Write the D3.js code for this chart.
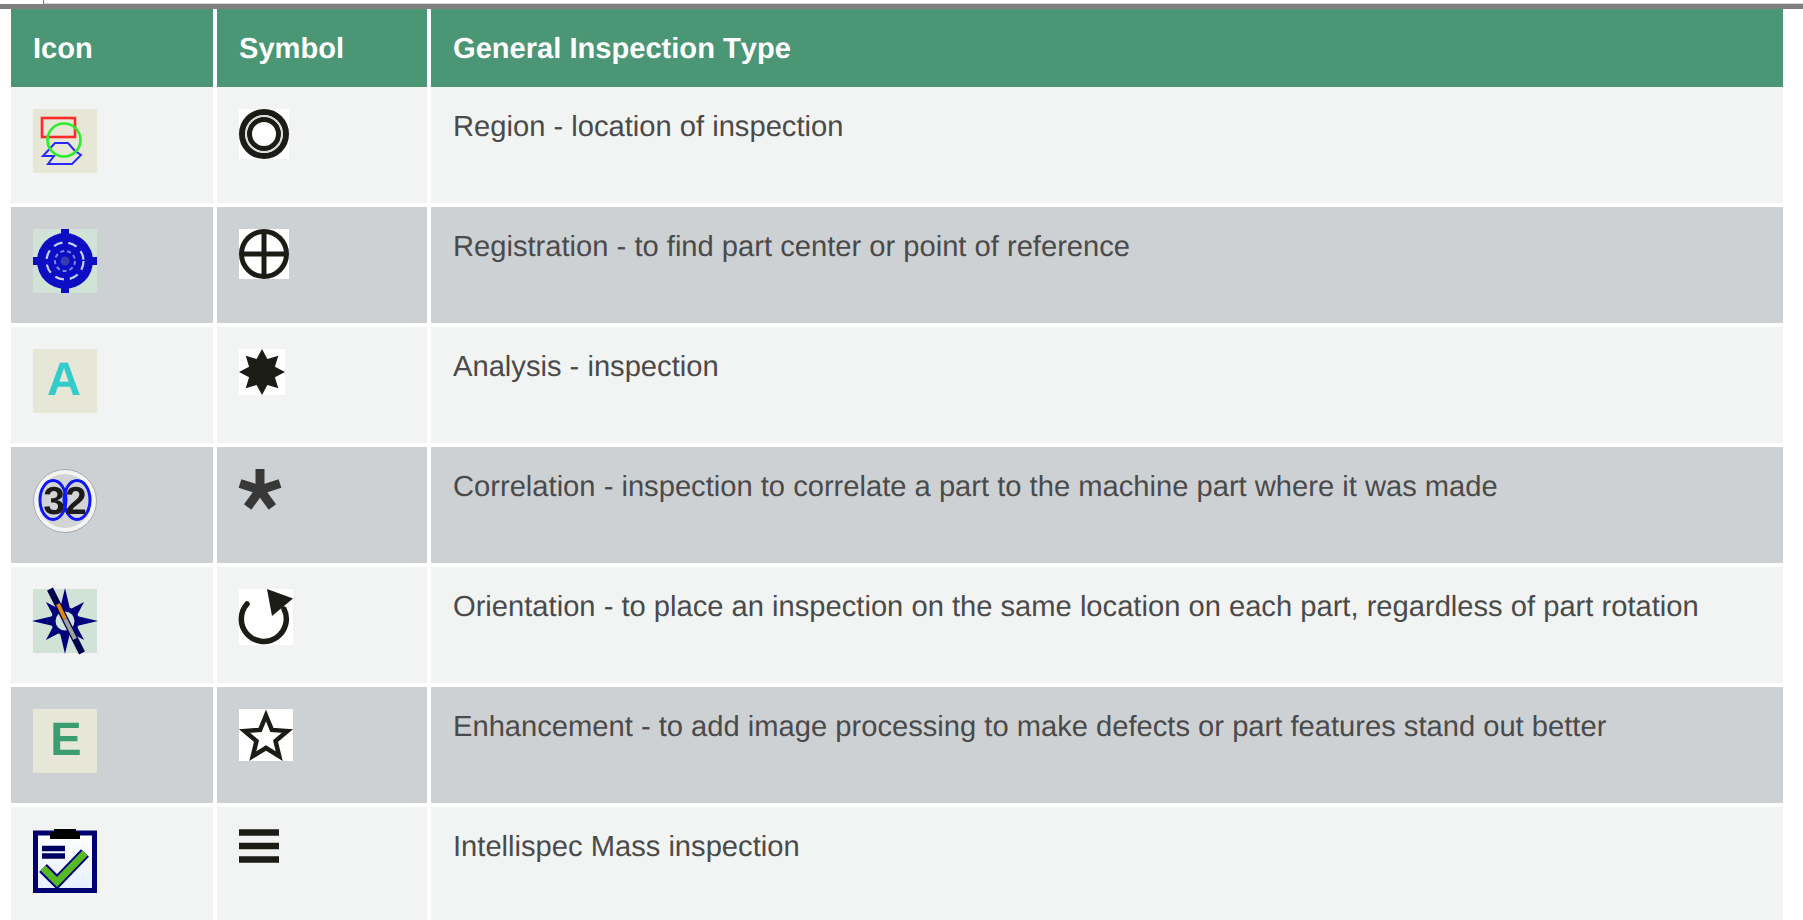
<!DOCTYPE html>
<html>
<head>
<meta charset="utf-8">
<script src="https://cdn.jsdelivr.net/npm/d3@7"></script>
<style>
  html, body { margin: 0; padding: 0; background: #fff; overflow: hidden; }
  text { font-family: "Liberation Sans", Arial, sans-serif; text-rendering: geometricPrecision; font-kerning: none; }
</style>
</head>
<body>
<div id="chart"></div>
<script>
// Table content
const columns = ["Icon", "Symbol", "General Inspection Type"];
const iconNames = ["region", "registration", "analysis", "correlation", "orientation", "enhancement", "mass"];
const symbolNames = ["target", "crosshair", "burst", "asterisk", "rotate", "star", "bars"];
const descriptions = [
    "Region - location of inspection",
    "Registration - to find part center or point of reference",
    "Analysis - inspection",
    "Correlation - inspection to correlate a part to the machine part where it was made",
    "Orientation - to place an inspection on the same location on each part, regardless of part rotation",
    "Enhancement - to add image processing to make defects or part features stand out better",
    "Intellispec Mass inspection"
];

const width = 1803, height = 920;
const columnEdges = [11, 217, 431, 1787];
const gap = 4;
const headerTop = 9, headerHeight = 78;
const ink = "#1f1a17";

// Helpers for the little pictures
function starPoints(cx, cy, outer, inner, n, start) {
    return d3.range(n * 2).map(i => {
        const a = start + i * Math.PI / n;
        const r = i % 2 ? inner : outer;
        return [cx + r * Math.cos(a), cy + r * Math.sin(a)];
    }).join(" ");
}
function square(g, size, fill) {
    g.append("rect").attr("width", size).attr("height", size).attr("fill", fill);
}

const iconDrawers = {
    region(g) {
        square(g, 64, "#e6e7d6");
        g.append("rect").attr("x", 9).attr("y", 9).attr("width", 33).attr("height", 19)
            .attr("fill", "none").attr("stroke", "#ff2a2a").attr("stroke-width", 2.6);
        g.append("polygon").attr("points", "10,47 22,34 35,34 42,42 48,46 39,55 15,55 21,47")
            .attr("fill", "none").attr("stroke", "#2a2aff").attr("stroke-width", 2);
        g.append("circle").attr("cx", 31).attr("cy", 31).attr("r", 16.5)
            .attr("fill", "none").attr("stroke", "#2aee2a").attr("stroke-width", 2.6);
    },
    registration(g) {
        square(g, 64, "#d1e2d6");
        const blue = "#0a10c4";
        g.append("path").attr("d", "M0,32H64M32,0V64").attr("stroke", blue).attr("stroke-width", 8);
        g.append("circle").attr("cx", 32).attr("cy", 32).attr("r", 28).attr("fill", blue);
        g.append("circle").attr("cx", 32).attr("cy", 32).attr("r", 18.5).attr("fill", "none")
            .attr("stroke", "#c8d0ee").attr("stroke-width", 2.2).attr("stroke-dasharray", "9 6");
        g.append("circle").attr("cx", 32).attr("cy", 32).attr("r", 10).attr("fill", "none")
            .attr("stroke", "#8088e4").attr("stroke-width", 2).attr("stroke-dasharray", "4 3");
        g.append("circle").attr("cx", 32).attr("cy", 32).attr("r", 4.5).attr("fill", "#3a3ab0");
    },
    analysis(g) {
        square(g, 64, "#e6e7d6");
        g.append("text").attr("x", 31).attr("y", 46).attr("text-anchor", "middle")
            .attr("font-size", 47).attr("font-weight", "bold").attr("fill", "#33cccc").text("A");
    },
    correlation(g) {
        g.append("circle").attr("cx", 32).attr("cy", 32).attr("r", 31.5).attr("fill", "#f4f4f4")
            .attr("stroke", "#a8a8a8").attr("stroke-width", 1);
        g.append("circle").attr("cx", 32).attr("cy", 32).attr("r", 27).attr("fill", "#d4d4d4");
        [20, 44].forEach(cx => {
            g.append("ellipse").attr("cx", cx).attr("cy", 31).attr("rx", 13).attr("ry", 19.5)
                .attr("fill", "none").attr("stroke", "#0a14ff").attr("stroke-width", 3);
        });
        g.append("text").attr("x", 32).attr("y", 45).attr("text-anchor", "middle")
            .attr("font-size", 39).attr("font-weight", "bold").attr("fill", "#1a1a1a").text("32");
    },
    orientation(g) {
        square(g, 64, "#d1e2d6");
        const navy = "#00007c";
        g.append("polygon").attr("points", starPoints(32, 32, 33, 9, 4, 0)).attr("fill", navy);
        g.append("polygon").attr("points", starPoints(32, 32, 27, 9, 4, Math.PI / 4)).attr("fill", navy);
        g.append("circle").attr("cx", 32).attr("cy", 32).attr("r", 14).attr("fill", navy);
        g.append("circle").attr("cx", 32).attr("cy", 32).attr("r", 9.5).attr("fill", "#d1e2d6");
        g.append("path").attr("d", "M17,0L49,64").attr("stroke", "#000050").attr("stroke-width", 6.5);
        g.append("path").attr("d", "M25,15L32,30").attr("stroke", "#e08a10").attr("stroke-width", 4);
        g.append("path").attr("d", "M32,30L42,50").attr("stroke", "#a0a0a0").attr("stroke-width", 4);
    },
    enhancement(g) {
        square(g, 64, "#e6e7d6");
        g.append("text").attr("x", 33).attr("y", 46).attr("text-anchor", "middle")
            .attr("font-size", 47).attr("font-weight", "bold").attr("fill", "#3a9e73").text("E");
    },
    mass(g) {
        g.append("rect").attr("x", 2.5).attr("y", 4).attr("width", 59).attr("height", 57.5)
            .attr("fill", "url(#clip-paper)").attr("stroke", "#000070").attr("stroke-width", 5);
        g.append("rect").attr("x", 17).attr("y", 3).attr("width", 30).attr("height", 7).attr("fill", "#000");
        g.append("rect").attr("x", 21).attr("y", 0).attr("width", 22).attr("height", 4).attr("fill", "#000");
        g.append("path").attr("d", "M9,19.5H32M9,27H32").attr("stroke", "#000060").attr("stroke-width", 5.5);
        g.append("path").attr("d", "M10,39L24,53L52,24").attr("fill", "none")
            .attr("stroke", "#000080").attr("stroke-width", 11);
        g.append("path").attr("d", "M10,39L24,53L52,24").attr("fill", "none")
            .attr("stroke", "#55bb22").attr("stroke-width", 7);
    }
};

const symbolDrawers = {
    target(g) {
        square(g, 50, "#fff");
        g.append("circle").attr("cx", 25).attr("cy", 25).attr("r", 22).attr("fill", "none").attr("stroke", ink).attr("stroke-width", 6);
        g.append("circle").attr("cx", 25).attr("cy", 25).attr("r", 14.5).attr("fill", "none").attr("stroke", ink).attr("stroke-width", 5);
        g.append("circle").attr("cx", 25).attr("cy", 25).attr("r", 18).attr("fill", "none").attr("stroke", "#d8d6d4").attr("stroke-width", 1.4);
    },
    crosshair(g) {
        square(g, 50, "#fff");
        g.append("circle").attr("cx", 25).attr("cy", 25).attr("r", 22.5).attr("fill", "none").attr("stroke", ink).attr("stroke-width", 5);
        g.append("path").attr("d", "M2,25H48M25,2V48").attr("stroke", ink).attr("stroke-width", 5);
    },
    burst(g) {
        square(g, 46, "#fff");
        g.append("polygon").attr("points", starPoints(23, 23, 23, 14, 8, -Math.PI / 2)).attr("fill", ink);
    },
    asterisk(g) {
        [0, 72, 144, 216, 288].forEach(a => {
            const r = a * Math.PI / 180;
            g.append("line").attr("x1", 21).attr("y1", 21)
                .attr("x2", 21 + 21 * Math.sin(r)).attr("y2", 21 - 21 * Math.cos(r))
                .attr("stroke", "#383838").attr("stroke-width", 9);
        });
    },
    rotate(g) {
        g.append("rect").attr("width", 54).attr("height", 56).attr("fill", "#fff");
        g.append("path").attr("d", "M8,15A22.5,22.5 0 1,0 45,20").attr("fill", "none")
            .attr("stroke", ink).attr("stroke-width", 5.5).attr("stroke-linecap", "round");
        g.append("polygon").attr("points", "28,0 54,9.5 33,27").attr("fill", ink);
    },
    star(g) {
        g.append("rect").attr("width", 54).attr("height", 52).attr("fill", "#fff");
        g.append("polygon").attr("points", starPoints(27, 29, 22.5, 10, 5, -Math.PI / 2))
            .attr("fill", "none").attr("stroke", ink).attr("stroke-width", 4.5);
    },
    bars(g) {
        g.append("path").attr("d", "M0,3.5H40M0,17H40M0,30.5H40").attr("stroke", ink).attr("stroke-width", 6.5);
    }
};

const svg = d3.select("#chart")
    .append("svg")
    .attr("width", width)
    .attr("height", height)
    .style("display", "block");

// Soft edge, the icons are small bitmaps in the original
const defs = svg.append("defs");
defs.append("filter").attr("id", "soft")
    .append("feGaussianBlur").attr("stdDeviation", 0.6);
const grad = defs.append("linearGradient").attr("id", "clip-paper")
    .attr("x1", 0).attr("y1", 0).attr("x2", 0).attr("y2", 1);
grad.append("stop").attr("offset", 0).attr("stop-color", "#ffffff");
grad.append("stop").attr("offset", 1).attr("stop-color", "#e4efff");

// Rows take one 120px step each, below the header
const y = d3.scaleBand()
    .domain(d3.range(iconNames.length))
    .range([83, 83 + 120 * iconNames.length]);

// Rule at the top of the page
svg.append("rect").attr("x", 0).attr("y", 4).attr("width", width).attr("height", 5).attr("fill", "#808080");
svg.append("rect").attr("x", 44).attr("y", 3).attr("width", width).attr("height", 1).attr("fill", "#d4d4d4");
svg.append("rect").attr("x", 43).attr("y", 0).attr("width", 1).attr("height", 4).attr("fill", "#808080");

// Header
columns.forEach((name, i) => {
    svg.append("rect")
        .attr("x", columnEdges[i])
        .attr("y", headerTop)
        .attr("width", columnEdges[i + 1] - columnEdges[i] - gap)
        .attr("height", headerHeight)
        .attr("fill", "#4a9675");
    svg.append("text")
        .attr("x", columnEdges[i] + 22)
        .attr("y", 58)
        .attr("fill", "#fff")
        .attr("font-size", 29.1)
        .attr("font-weight", "bold")
        .text(name);
});

// Body rows
const rows = svg.selectAll(".row")
    .data(d3.range(iconNames.length))
    .enter()
    .append("g")
    .attr("class", "row")
    .attr("transform", d => `translate(0,${y(d)})`);

columns.forEach((name, i) => {
    rows.append("rect")
        .attr("x", columnEdges[i])
        .attr("y", 4)
        .attr("width", columnEdges[i + 1] - columnEdges[i] - gap)
        .attr("height", 116)
        .attr("fill", d => d % 2 ? "#ced1d4" : "#f2f4f3");
});

rows.append("text")
    .attr("x", 453)
    .attr("y", 53)
    .attr("fill", "#4a4a4a")
    .attr("font-size", 29.15)
    .text(d => descriptions[d]);

rows.append("g")
    .attr("transform", "translate(33,26)")
    .attr("filter", "url(#soft)")
    .each(function (d) { iconDrawers[iconNames[d]](d3.select(this)); });

rows.append("g")
    .attr("transform", "translate(239,26)")
    .attr("filter", "url(#soft)")
    .each(function (d) { symbolDrawers[symbolNames[d]](d3.select(this)); });
</script>
</body>
</html>
